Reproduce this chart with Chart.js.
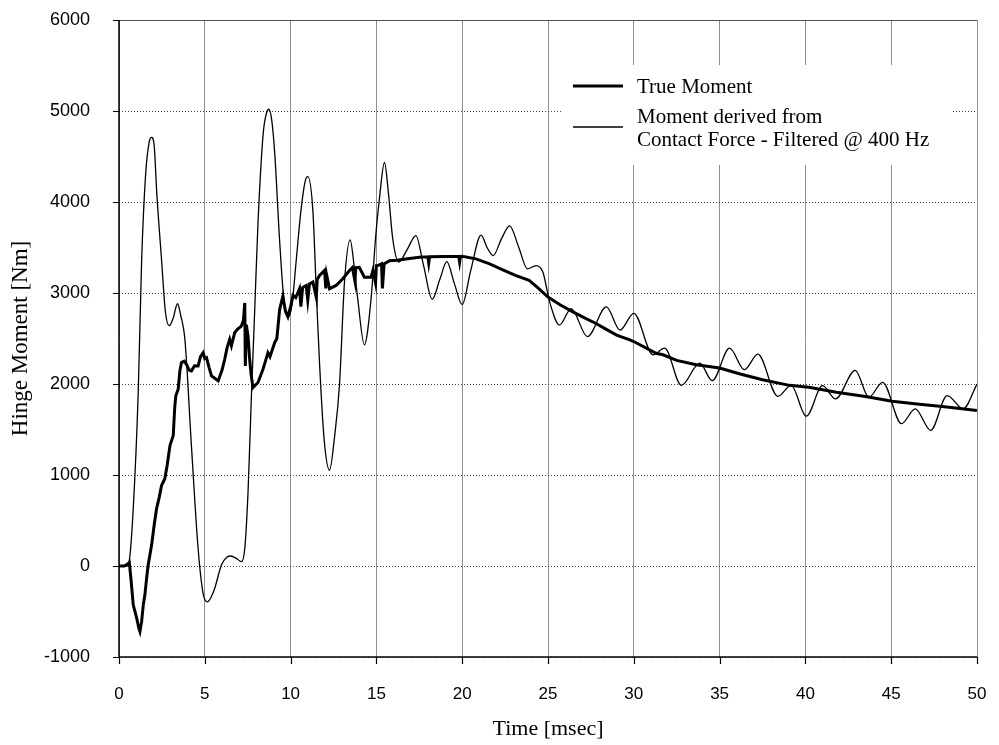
<!DOCTYPE html>
<html>
<head>
<meta charset="utf-8">
<title>Hinge Moment</title>
<script src="https://cdn.jsdelivr.net/npm/chart.js@4.4.0/dist/chart.umd.min.js"></script>
<style>
  html, body { margin: 0; padding: 0; background: #fff; }
  #wrap { width: 999px; height: 745px; }
</style>
</head>
<body>
<div id="wrap"><canvas id="momentChart" width="999" height="745"></canvas></div>
<script>
// tick labels
const xTickValues = [0, 5, 10, 15, 20, 25, 30, 35, 40, 45, 50];
const yTickValues = [-1000, 0, 1000, 2000, 3000, 4000, 5000, 6000];

// True Moment (thick line) - time [msec] / moment [Nm]
const timeTrue = [
  0, 0.3, 0.5, 0.6, 0.7, 0.83, 1.03, 1.15, 1.22, 1.32, 1.42, 1.51, 1.6, 1.7, 1.9,
  2.05, 2.19, 2.35, 2.48, 2.67, 2.8, 2.97, 3.16, 3.25, 3.31, 3.45, 3.55, 3.64, 3.8, 3.93,
  4.1, 4.22, 4.4, 4.61, 4.75, 4.9, 5.0, 5.1, 5.25, 5.39, 5.6, 5.78, 6.0, 6.16, 6.3,
  6.45, 6.55, 6.74, 6.9, 7.13, 7.25, 7.33, 7.36, 7.42, 7.52, 7.6, 7.7, 7.81, 8.1, 8.39,
  8.5, 8.68, 8.8, 9.07, 9.2, 9.36, 9.55, 9.7, 9.84, 10.0, 10.14, 10.3, 10.52, 10.6, 10.7,
  10.91, 11.0, 11.1, 11.3, 11.5, 11.55, 11.69, 11.98, 12.05, 12.1, 12.27, 12.65, 13.04, 13.43, 13.6,
  13.75, 13.8, 14.0, 14.3, 14.69, 14.8, 14.95, 15.0, 15.08, 15.3, 15.35, 15.45, 15.76, 16.2, 16.72,
  17.5, 18.0, 18.05, 18.1, 19.0, 19.8, 19.85, 19.9, 20.0, 20.8, 21.6, 22.3, 23.1, 23.9, 24.4,
  25.0, 25.7, 26.45, 27.1, 27.8, 28.4, 29.0, 29.77, 30.0, 31.3, 31.7, 32.5, 33.64, 35.0, 36.2,
  37.5, 39.07, 40.2, 41.8, 43.5, 45.06, 46.5, 47.97, 49.0, 50.0
];
const momentTrue = [
  0, 0, 20, 40, -150, -427, -572, -680, -720, -609, -420, -317, -150, 11, 230,
  450, 631, 760, 886, 959, 1100, 1323, 1433, 1750, 1870, 1943, 2150, 2235, 2250, 2217,
  2150, 2144, 2200, 2198, 2300, 2344, 2280, 2289, 2180, 2089, 2060, 2034, 2150, 2271, 2400,
  2490, 2420, 2563, 2600, 2636, 2700, 2891, 2198, 2650, 2526, 2300, 2100, 1961, 2016, 2162,
  2230, 2344, 2300, 2454, 2500, 2818, 2964, 2800, 2739, 2850, 2975, 2950, 3047, 2850, 3060,
  3083, 2920, 3100, 3120, 2950, 3150, 3192, 3247, 3050, 3200, 3047, 3083, 3156, 3247, 3280,
  3130, 3280, 3283, 3174, 3174, 3250, 3110, 3300, 3301, 3320, 3050, 3320, 3355, 3360, 3374,
  3392, 3398, 3330, 3398, 3400, 3402, 3340, 3402, 3404, 3375, 3320, 3260, 3193, 3138, 3060,
  2956, 2870, 2793, 2730, 2665, 2600, 2538, 2485, 2467, 2338, 2321, 2260, 2212, 2175, 2110,
  2047, 1985, 1964, 1910, 1862, 1811, 1780, 1753, 1730, 1709
];

// Moment derived from contact force, filtered @ 400 Hz (thin line)
const timeFiltered = [
  0, 0.45, 0.6, 0.83, 1.12, 1.32, 1.55, 1.75, 1.9, 2.05, 2.2, 2.48, 2.7, 2.93, 3.15,
  3.41, 3.6, 3.84, 4.22, 4.61, 4.9, 5.15, 5.4, 5.58, 5.97, 6.3, 6.5, 6.84, 7.13, 7.33,
  7.52, 7.71, 7.91, 8.1, 8.4, 8.6, 8.74, 8.9, 9.07, 9.36, 9.6, 9.9, 10.1, 10.3, 10.6,
  10.85, 11.0, 11.3, 11.5, 11.69, 11.95, 12.27, 12.55, 12.85, 13.14, 13.47, 13.7, 13.91, 14.3, 14.69,
  14.95, 15.17, 15.47, 15.7, 15.95, 16.3, 16.8, 17.3, 17.75, 18.25, 18.7, 19.1, 19.55, 20.0, 20.5,
  21.1, 21.45, 21.8, 22.3, 22.76, 23.3, 23.8, 24.3, 24.7, 25.1, 25.67, 26.35, 27.3, 28.4, 29.2,
  30.0, 31.12, 31.8, 32.77, 33.84, 34.57, 35.58, 36.45, 37.23, 38.39, 39.17, 40.05, 41.0, 41.76, 42.9,
  43.7, 44.5, 45.6, 46.4, 47.3, 48.26, 49.2, 50.0
];
const momentFiltered = [
  0, 0, 60, 631, 1907, 3365, 4300, 4650, 4710, 4620, 4100, 3365, 2800, 2640, 2720,
  2882, 2750, 2490, 1323, 193, -300, -394, -330, -244, 11, 100, 110, 84, 47, 193,
  813, 1834, 2818, 3771, 4746, 4980, 5019, 4900, 4551, 3576, 2950, 2740, 2900, 3300, 3900,
  4230, 4278, 3900, 3000, 2213, 1400, 1052, 1400, 1995, 3120, 3584, 3300, 2938, 2431, 2938,
  3600, 4026, 4434, 4100, 3600, 3340, 3480, 3630, 3300, 2931, 3150, 3345, 3100, 2873, 3250,
  3636, 3500, 3411, 3600, 3738, 3500, 3265, 3300, 3230, 2900, 2647, 2829, 2520, 2847, 2593,
  2777, 2321, 2394, 1985, 2230, 2036, 2394, 2157, 2328, 1865, 1985, 1646, 1982, 1836, 2150,
  1855, 2018, 1564, 1727, 1491, 1873, 1727, 2000
];

const serif = "'Liberation Serif', 'Times New Roman', serif";
const sans = "'Liberation Sans', Arial, sans-serif";

function toPoints(xs, ys) {
  return xs.map((x, i) => ({ x: x, y: ys[i] }));
}

// axes, tick marks, top line and the boxed legend
const framePlugin = {
  id: 'frame',
  afterDraw(chart) {
    const ctx = chart.ctx;
    const a = chart.chartArea;
    const xs = chart.scales.x;
    const ys = chart.scales.y;
    ctx.save();
    ctx.setLineDash([]);

    ctx.strokeStyle = '#555';
    ctx.lineWidth = 1;
    ctx.beginPath();
    ctx.moveTo(a.left, a.top + 0.5);
    ctx.lineTo(a.right, a.top + 0.5);
    ctx.stroke();

    ctx.strokeStyle = '#000';
    ctx.lineWidth = 1.5;
    ctx.beginPath();
    ctx.moveTo(a.left, a.top);
    ctx.lineTo(a.left, a.bottom);
    ctx.lineTo(a.right, a.bottom);
    ctx.stroke();

    ctx.lineWidth = 1.2;
    ctx.beginPath();
    yTickValues.forEach(v => {
      const y = Math.round(ys.getPixelForValue(v)) + 0.5;
      ctx.moveTo(a.left - 6, y);
      ctx.lineTo(a.left, y);
    });
    xTickValues.forEach(v => {
      const x = Math.round(xs.getPixelForValue(v)) + 0.5;
      ctx.moveTo(x, a.bottom);
      ctx.lineTo(x, a.bottom + 7);
    });
    ctx.stroke();

    // legend
    const lx = a.left + 443;
    const ly = a.top + 45;
    ctx.fillStyle = '#fff';
    ctx.fillRect(lx, ly, 390, 100);

    ctx.strokeStyle = '#000';
    ctx.lineWidth = 3;
    ctx.beginPath();
    ctx.moveTo(lx + 11, ly + 21);
    ctx.lineTo(lx + 61, ly + 21);
    ctx.stroke();
    ctx.lineWidth = 1.3;
    ctx.beginPath();
    ctx.moveTo(lx + 11, ly + 62);
    ctx.lineTo(lx + 61, ly + 62);
    ctx.stroke();

    ctx.fillStyle = '#000';
    ctx.font = '21px ' + serif;
    ctx.textAlign = 'left';
    ctx.textBaseline = 'middle';
    ctx.fillText('True Moment', lx + 75, ly + 22);
    ctx.fillText('Moment derived from', lx + 75, ly + 52);
    ctx.fillText('Contact Force - Filtered @ 400 Hz', lx + 75, ly + 75);
    ctx.restore();
  }
};

const chart = new Chart(document.getElementById('momentChart'), {
  type: 'line',
  data: {
    datasets: [
      {
        label: 'True Moment',
        data: toPoints(timeTrue, momentTrue),
        borderColor: '#000',
        borderWidth: 3,
        pointRadius: 0,
        tension: 0,
        fill: false
      },
      {
        label: 'Moment derived from Contact Force - Filtered @ 400 Hz',
        data: toPoints(timeFiltered, momentFiltered),
        borderColor: '#000',
        borderWidth: 1.3,
        pointRadius: 0,
        cubicInterpolationMode: 'monotone',
        fill: false
      }
    ]
  },
  options: {
    responsive: false,
    animation: false,
    devicePixelRatio: 1,
    layout: { padding: 0 },
    plugins: {
      legend: { display: false },
      tooltip: { enabled: false }
    },
    scales: {
      x: {
        type: 'linear',
        min: 0,
        max: 50,
        afterBuildTicks: s => { s.ticks = xTickValues.map(v => ({ value: v })); },
        afterFit: s => {
          s.height = 88;
          s.paddingLeft = 0;
          s.paddingRight = 22;
        },
        grid: { color: '#8f8f8f', lineWidth: 1, drawTicks: false },
        border: { display: false },
        ticks: {
          padding: 27,
          color: '#000',
          maxRotation: 0,
          autoSkip: false,
          font: { family: "'Liberation Sans Narrow', " + sans, size: 17 },
          callback: v => String(v)
        },
        title: {
          display: true,
          text: 'Time [msec]',
          color: '#000',
          font: { family: serif, size: 22 },
          padding: { top: 0, bottom: 3 }
        }
      },
      y: {
        type: 'linear',
        min: -1000,
        max: 6000,
        afterBuildTicks: s => { s.ticks = yTickValues.map(v => ({ value: v })); },
        afterFit: s => {
          s.width = 119;
          s.paddingTop = 20;
          s.paddingBottom = 0;
        },
        grid: { color: '#444', lineWidth: 1, drawTicks: false },
        border: { display: false, dash: [1, 2] },
        ticks: {
          padding: 29,
          color: '#000',
          font: { family: sans, size: 18 },
          callback: v => String(v)
        },
        title: {
          display: true,
          text: 'Hinge Moment [Nm]',
          color: '#000',
          font: { family: serif, size: 23 },
          padding: { top: 7, bottom: 0 }
        }
      }
    }
  },
  plugins: [framePlugin]
});
</script>
</body>
</html>
